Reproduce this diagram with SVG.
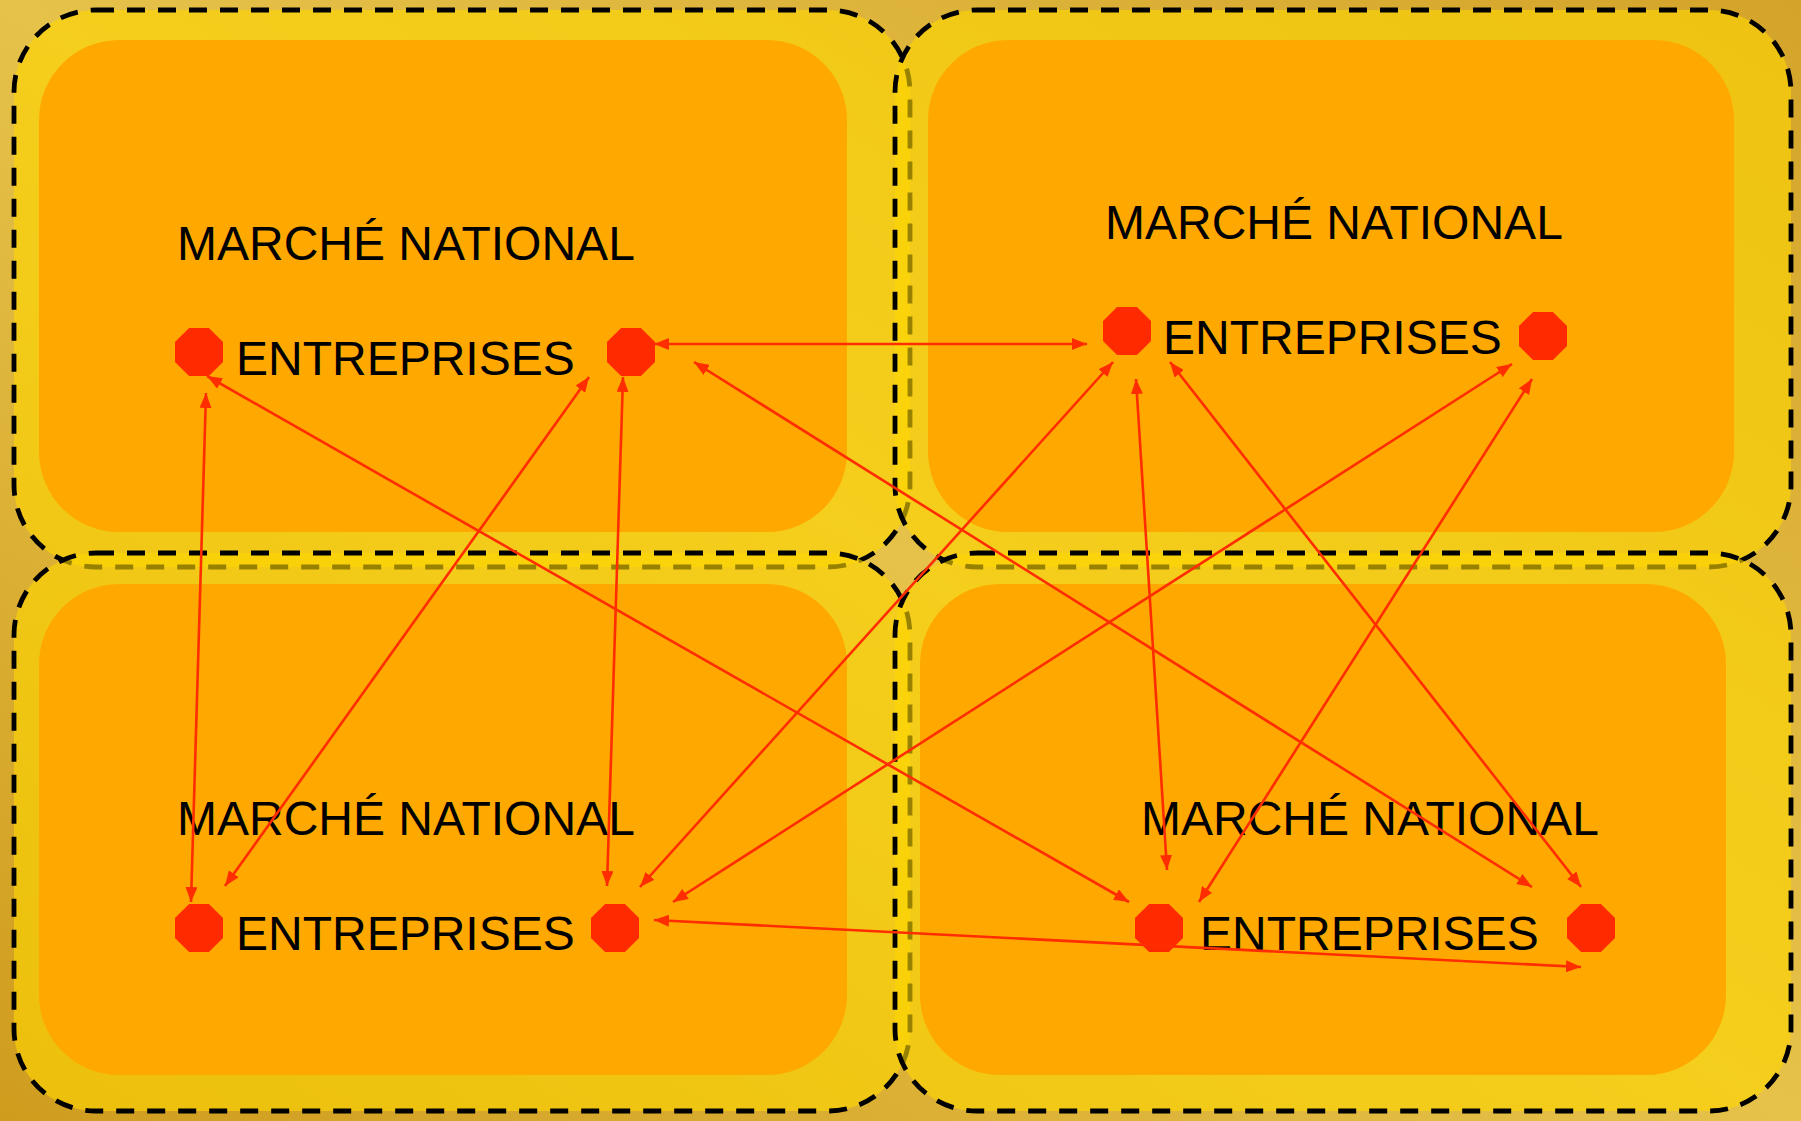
<svg xmlns="http://www.w3.org/2000/svg" width="1801" height="1121" viewBox="0 0 1801 1121">
<defs>
<linearGradient id="bg" x1="0" y1="1" x2="1" y2="0">
<stop offset="0" stop-color="#cf9c1e"/>
<stop offset="0.5" stop-color="#e6c24a"/>
<stop offset="1" stop-color="#d4a42a"/>
</linearGradient>
<polygon id="oct" points="-9.94,-24 9.94,-24 24,-9.94 24,9.94 9.94,24 -9.94,24 -24,9.94 -24,-9.94"/>
<marker id="ah" viewBox="0 0 15 12" refX="15" refY="6" markerWidth="15" markerHeight="12" markerUnits="userSpaceOnUse" orient="auto-start-reverse">
<path d="M0,0 L15,6 L0,12 z" fill="#ff2d00"/>
</marker>
</defs>
<style>
.box{fill:#ffd700;fill-opacity:0.6;stroke:#000;stroke-width:4.8;stroke-dasharray:18 13}
.inner{fill:#ffa800}
.lbl{font-family:"Liberation Sans",Arial,sans-serif;font-size:48px;fill:#000}
.firm{fill:#ff2a00}
.conn line{stroke:#ff2d00;stroke-width:2.6;marker-start:url(#ah);marker-end:url(#ah)}
</style>
<rect x="0" y="0" width="1801" height="1121" fill="url(#bg)"/>
<g id="market-tl">
<rect class="box" x="14" y="10" width="896" height="557" rx="82" ry="82"/>
<rect class="inner" x="39" y="40" width="808" height="492" rx="80" ry="80"/>
<text class="lbl" x="177" y="260">MARCHÉ NATIONAL</text>
<text class="lbl" x="236" y="375">ENTREPRISES</text>
</g>
<g id="market-tr">
<rect class="box" x="895" y="10" width="896" height="557" rx="82" ry="82"/>
<rect class="inner" x="928" y="40" width="806" height="492" rx="80" ry="80"/>
<text class="lbl" x="1105" y="239">MARCHÉ NATIONAL</text>
<text class="lbl" x="1163" y="354">ENTREPRISES</text>
</g>
<g id="market-bl">
<rect class="box" x="14" y="553" width="896" height="558" rx="82" ry="82"/>
<rect class="inner" x="39" y="584" width="808" height="491" rx="80" ry="80"/>
<text class="lbl" x="177" y="835">MARCHÉ NATIONAL</text>
<text class="lbl" x="236" y="950">ENTREPRISES</text>
</g>
<g id="market-br">
<rect class="box" x="895" y="553" width="896" height="558" rx="82" ry="82"/>
<rect class="inner" x="920" y="584" width="806" height="491" rx="80" ry="80"/>
<text class="lbl" x="1141" y="835">MARCHÉ NATIONAL</text>
<text class="lbl" x="1200" y="950">ENTREPRISES</text>
</g>
<g id="firm-tl-a"><use href="#oct" class="firm" x="199" y="352"/></g>
<g id="firm-tl-b"><use href="#oct" class="firm" x="631" y="352"/></g>
<g id="firm-tr-a"><use href="#oct" class="firm" x="1127" y="331"/></g>
<g id="firm-tr-b"><use href="#oct" class="firm" x="1543" y="336"/></g>
<g id="firm-bl-a"><use href="#oct" class="firm" x="199" y="928"/></g>
<g id="firm-bl-b"><use href="#oct" class="firm" x="615" y="928"/></g>
<g id="firm-br-a"><use href="#oct" class="firm" x="1159" y="928"/></g>
<g id="firm-br-b"><use href="#oct" class="firm" x="1591" y="928"/></g>
<g id="connectors" class="conn">
<line x1="654" y1="344" x2="1087" y2="344"/>
<line x1="207" y1="376" x2="1129" y2="902"/>
<line x1="206" y1="393" x2="191" y2="902"/>
<line x1="589" y1="377" x2="225" y2="886"/>
<line x1="623" y1="377" x2="607" y2="886"/>
<line x1="694" y1="362" x2="1532" y2="887"/>
<line x1="1113" y1="362" x2="640" y2="887"/>
<line x1="1136" y1="379" x2="1167" y2="870"/>
<line x1="1170" y1="362" x2="1581" y2="887"/>
<line x1="1512" y1="364" x2="673" y2="902"/>
<line x1="1532" y1="379" x2="1199" y2="902"/>
<line x1="654" y1="920" x2="1581" y2="967"/>
</g>
</svg>
